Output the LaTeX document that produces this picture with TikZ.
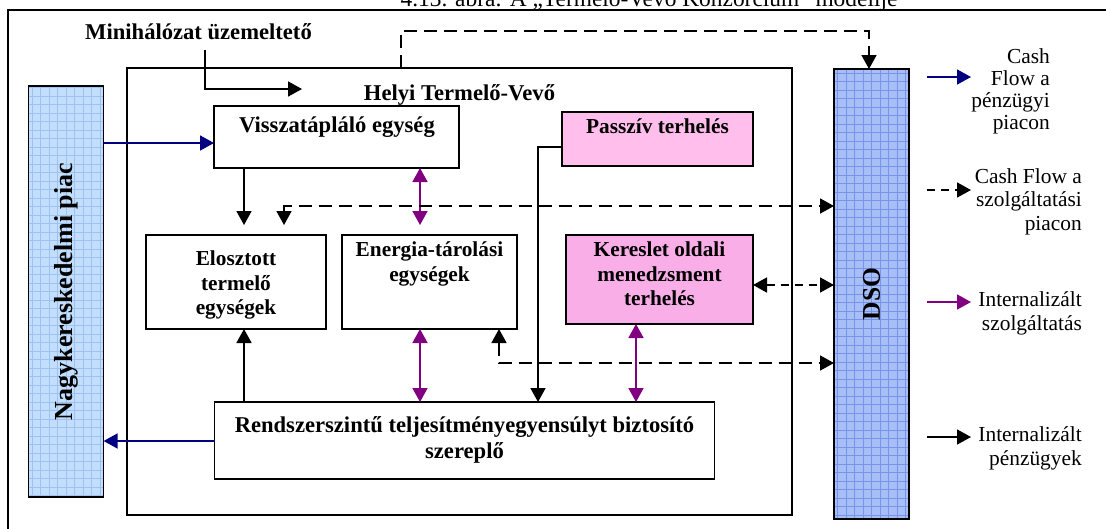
\documentclass[tikz,border=0pt]{standalone}
\usepackage{fontspec}
\setmainfont{Liberation Serif}
\usetikzlibrary{arrows.meta,calc}

\definecolor{navyflow}{RGB}{0,0,128}
\definecolor{violetflow}{RGB}{128,0,128}
\definecolor{marketfill}{RGB}{194,222,252}
\definecolor{marketgrid}{RGB}{156,194,242}
\definecolor{dsofill}{RGB}{168,190,246}
\definecolor{dsogrid}{RGB}{118,148,234}
\definecolor{passivefill}{RGB}{255,190,236}
\definecolor{demandfill}{RGB}{250,174,232}

\tikzset{
  panel/.style={draw, line width=2pt, anchor=north west, inner sep=0pt, outer sep=0pt},
  unit/.style={panel, line width=1.9pt},
  gridpanel/.style 2 args={panel, line width=1.6pt, fill=#1,
    path picture={\draw[#2, line width=0.8pt, step=8.5pt]
      (path picture bounding box.south west) grid (path picture bounding box.north east);}},
  bigtext/.style={font=\fontsize{22.6}{26}\selectfont\bfseries, align=center, inner sep=0pt},
  smalltext/.style={font=\fontsize{21.3}{24.5}\selectfont\bfseries, align=center, inner sep=0pt},
  sidetext/.style={font=\fontsize{26}{30}\selectfont\bfseries, rotate=90, inner sep=0pt},
  keytext/.style={font=\fontsize{21.4}{23.5}\selectfont, align=right, inner sep=0pt, anchor=east},
  tipped/.style={-{Triangle[length=14pt,width=15pt]}},
  twotipped/.style={{Triangle[length=14pt,width=15pt]}-{Triangle[length=14pt,width=15pt]}},
  money/.style={line width=1.7pt, black},
  service/.style={line width=1.7pt, violetflow},
  market/.style={line width=1.7pt, navyflow},
  cashdash/.style={line width=1.7pt, dash pattern=on 13pt off 7pt},
  shortdash/.style={line width=1.7pt, dash pattern=on 8pt off 6pt},
}

\begin{document}
\begin{tikzpicture}[x=1pt,y=-1pt]
\useasboundingbox (0,0) rectangle (1106,528);
\clip (0,0) rectangle (1106,528);
\fill[white] (0,0) rectangle (1106,528);

% caption running above the frame
\node[font=\fontsize{23.4}{28}\selectfont, anchor=base, inner sep=0pt] (caption) at (649,6)
  {4.13. ábra: A „Termelő-Vevő Konzorcium” modellje};

% outer frame, continuing past the right and lower edges
\node[panel, minimum width=1130pt, minimum height=540pt] (outer) at (8,10) {};

% local producer-consumer frame
\node[panel, minimum width=665pt, minimum height=447pt] (helyi) at (127,68) {};
\node[bigtext] (helyitxt) at (459.5,94.6) {Helyi Termelő-Vevő};
\node[bigtext] (mini) at (198.5,31.7) {Minihálózat üzemeltető};

% wholesale market and DSO columns
\node[gridpanel={marketfill}{marketgrid}, minimum width=75pt, minimum height=411pt] (whole) at (28.6,86) {};
\node[sidetext] (wholetxt) at (whole.center) {Nagykereskedelmi piac};
\node[gridpanel={dsofill}{dsogrid}, minimum width=75pt, minimum height=450pt] (dso) at (834,69) {};
\node[sidetext, font=\fontsize{25.5}{30}\selectfont\bfseries] (dsotxt) at (dso.center) {DSO};

% units inside the frame
\node[unit, minimum width=245pt, minimum height=62pt] (feed) at (214,106) {};
\node[bigtext] (feedtxt) at (337,127.6) {Visszatápláló egység};
\node[unit, fill=passivefill, minimum width=191pt, minimum height=54pt] (passive) at (562,112) {};
\node[smalltext] (passivetxt) at (657.5,126) {Passzív terhelés};
\node[unit, minimum width=180pt, minimum height=94pt] (gen) at (146,235) {};
\node[smalltext] (gentxt) at (236,285) {Elosztott\\termelő\\egységek};
\node[unit, minimum width=175pt, minimum height=94pt] (store) at (342,235) {};
\node[smalltext] (storetxt) at (429.5,264) {Energia-tárolási\\egységek};
\node[unit, fill=demandfill, minimum width=187pt, minimum height=89pt] (demand) at (566,235) {};
\node[smalltext] (demandtxt) at (659.5,274) {Kereslet oldali\\menedzsment\\terhelés};
\node[unit, minimum width=500pt, minimum height=77pt] (balance) at (214.5,402) {};
\node[bigtext] (balancetxt) at (464.5,439.5) {Rendszerszintű teljesítményegyensúlyt biztosító\\szereplő};

% flows to and from the wholesale market
\draw[market, tipped] (whole.east |- 0,143) -- (feed.west |- 0,143);
\draw[market, tipped] (balance.west |- 0,441) -- (whole.east |- 0,441);

% microgrid operator
\coordinate (minibend) at (205,89);
\coordinate (miniend) at (302,89);
\draw[money, tipped, shorten <=10pt] (mini.south -| minibend) -- (minibend) -- (miniend);
\coordinate (opcorner) at (401,31);
\draw[cashdash, tipped] (helyi.north -| opcorner) -- (opcorner) -| (dso.north -| 869,0);

% internal links
\draw[money, tipped, shorten >=10pt] (feed.south -| 244,0) -- (gen.north -| 244,0);
\draw[service, twotipped, shorten >=10pt] (feed.south -| 420,0) -- (store.north -| 420,0);
\draw[cashdash, twotipped, shorten <=10pt] (gen.north -| 284,0) |- (dso.west |- 0,206);
\draw[money, tipped] (balance.north -| 244,0) -- (gen.south -| 244,0);
\draw[service, twotipped] (store.south -| 420,0) -- (balance.north -| 420,0);
\draw[cashdash, twotipped] (store.south -| 499,0) |- (dso.west |- 0,363);
\draw[money, tipped] (passive.west |- 0,147) -| (balance.north -| 538,0);
\draw[service, twotipped] (demand.south -| 636,0) -- (balance.north -| 636,0);
\draw[shortdash, twotipped] (demand.east |- 0,285) -- (dso.west |- 0,285);

% key
\coordinate (k1a) at (927,77);  \coordinate (k1b) at (971,77);
\coordinate (k2a) at (927,190); \coordinate (k2b) at (971,190);
\coordinate (k3a) at (927,302); \coordinate (k3b) at (971,302);
\coordinate (k4a) at (927,437); \coordinate (k4b) at (971,437);
\draw[market, tipped] (k1a) -- (k1b);
\draw[shortdash, tipped] (k2a) -- (k2b);
\draw[service, tipped] (k3a) -- (k3b);
\draw[money, tipped] (k4a) -- (k4b);
\node[keytext, font=\fontsize{21.4}{22}\selectfont] (k1) at (1050,91) {Cash\\Flow a\\pénzügyi\\piacon};
\node[keytext] (k2) at (1082,201.5) {Cash Flow a\\szolgáltatási\\piacon};
\node[keytext] (k3) at (1082,313.6) {Internalizált\\szolgáltatás};
\node[keytext] (k4) at (1082,448.6) {Internalizált\\pénzügyek};
\end{tikzpicture}
\end{document}
